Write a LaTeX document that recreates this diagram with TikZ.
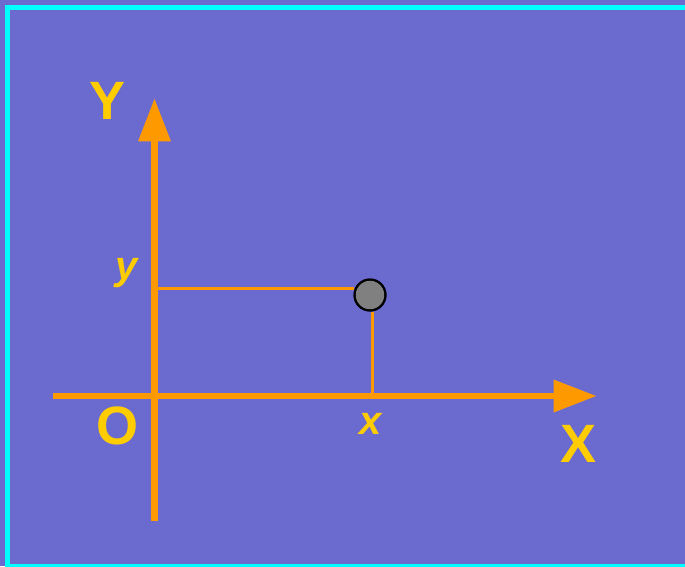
\documentclass[tikz,border=0pt]{standalone}
\usepackage{fontspec}
\setmainfont{Liberation Sans}
\usetikzlibrary{arrows.meta}
\definecolor{bgpurple}{RGB}{107,107,207}
\definecolor{framecyan}{RGB}{0,255,255}
\definecolor{axisorange}{RGB}{255,153,0}
\definecolor{labelyellow}{RGB}{255,204,0}
\definecolor{pointgray}{RGB}{128,128,128}
\tikzset{
  axis/.style={draw=axisorange, line width=6.5pt, -{Triangle[length=43pt,width=31pt]}},
  axisplain/.style={draw=axisorange, line width=6.5pt},
  guide/.style={draw=axisorange, line width=3pt},
  biglabel/.style={text=labelyellow, font=\fontsize{54}{60}\selectfont\bfseries, inner sep=0pt, anchor=base},
  smalllabel/.style={text=labelyellow, font=\fontsize{40}{46}\selectfont\bfseries\itshape, inner sep=0pt, anchor=base},
  pointdot/.style={circle, fill=pointgray, draw=black, line width=2pt, minimum size=31pt, inner sep=0pt}
}
\begin{document}
\begin{tikzpicture}[x=1pt,y=-1pt]
\useasboundingbox (0,0) rectangle (685,566);
\clip (0,0) rectangle (685,566);
\fill[bgpurple] (0,0) rectangle (685,566);
\draw[framecyan, line width=5pt] (7.5,7.5) rectangle (720,566.5);
% axes
\coordinate (xstart) at (52.7,396);
\coordinate (xend) at (596.7,396);
\coordinate (ystart) at (154.5,521);
\coordinate (yend) at (154.5,98.3);
\draw[axis] (xstart) -- (xend);
\draw[axis] (ystart) -- (yend);
% point
\coordinate (ylevel) at (157.5,288.3);
\coordinate (xfoot) at (372,396);
\node[pointdot] (P) at (370,295) {};
\draw[guide] (ylevel) -- (ylevel -| P.west);
\draw[guide] (P.south -| xfoot) -- (xfoot);
\path[draw=black, line width=2pt] (P) circle (15.5pt);
% labels
\node[biglabel] (Ylab) at (107.5,119) {Y};
\node[biglabel] (Olab) at (117.7,444.5) {O};
\node[biglabel] (Xlab) at (578.4,462) {X};
\node[smalllabel] (ylab) at (127,279) {y};
\node[smalllabel] (xlab) at (371,434.3) {x};
\end{tikzpicture}
\end{document}
